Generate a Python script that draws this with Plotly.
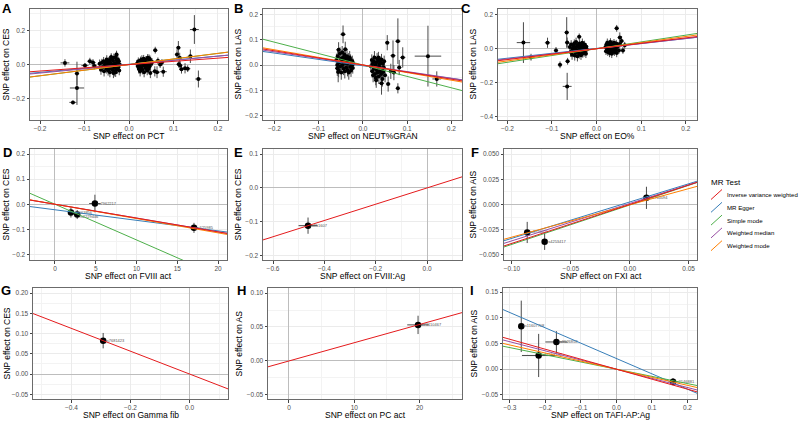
import plotly.graph_objects as go

W, H = 800, 421

# ---------------- data ----------------
METHODS = ["Inverse variance weighted", "MR Egger", "Simple mode", "Weighted median", "Weighted mode"]
COLORS = ["#E41A1C", "#377EB8", "#4DAF4A", "#984EA3", "#FF7F00"]
DRAW_ORDER = [1, 2, 3, 4, 0]

LETTERS = ["A", "B", "C", "D", "E", "F", "G", "H", "I"]
X_TITLES = ["SNP effect on PCT", "SNP effect on NEUT%GRAN", "SNP effect on EO%",
            "SNP effect on FVIII act", "SNP effect on FVIII:Ag", "SNP effect on FXI act",
            "SNP effect on Gamma fib", "SNP effect on PC act", "SNP effect on TAFI-AP:Ag"]
Y_TITLES = ["SNP effect on CES", "SNP effect on LAS", "SNP effect on LAS",
            "SNP effect on CES", "SNP effect on CES", "SNP effect on AIS",
            "SNP effect on CES", "SNP effect on AS", "SNP effect on AIS"]

# SNP tuples: (beta_exposure, beta_outcome, se_exposure, se_outcome)
A_snps = [
    (-0.144, 0.010, 0.010, 0.022), (-0.117, -0.053, 0.005, 0.070), (-0.117, -0.138, 0.016, 0.100),
    (-0.126, -0.223, 0.008, 0.010), (-0.099, -0.006, 0.008, 0.015), (-0.088, 0.020, 0.006, 0.020),
    (-0.081, 0.012, 0.006, 0.020), (-0.078, -0.008, 0.006, 0.020),
    (0.147, 0.207, 0.010, 0.085), (0.156, -0.085, 0.007, 0.050), (0.059, 0.085, 0.005, 0.020),
    (0.111, 0.099, 0.005, 0.040), (0.108, 0.060, 0.005, 0.030), (0.114, 0.040, 0.005, 0.030),
    (0.138, 0.049, 0.006, 0.040), (0.126, -0.022, 0.008, 0.030), (0.118, -0.028, 0.005, 0.025),
    (0.132, -0.024, 0.006, 0.020), (0.077, -0.042, 0.008, 0.030), (0.058, -0.040, 0.006, 0.030),
    (0.063, -0.045, 0.006, 0.035), (0.065, 0.022, 0.005, 0.020), (0.070, 0.000, 0.005, 0.020),
    (0.074, 0.012, 0.005, 0.020), (0.112, 0.002, 0.005, 0.020), (0.115, -0.005, 0.005, 0.025),
    (-0.066, 0.005, 0.004, 0.025), (-0.063, -0.030, 0.004, 0.030), (-0.061, 0.012, 0.004, 0.022),
    (-0.059, -0.015, 0.004, 0.028), (-0.057, 0.020, 0.004, 0.025), (-0.056, -0.040, 0.004, 0.030),
    (-0.054, 0.000, 0.004, 0.020), (-0.053, 0.015, 0.004, 0.025), (-0.051, -0.025, 0.004, 0.028),
    (-0.050, 0.030, 0.004, 0.025), (-0.049, -0.010, 0.004, 0.020), (-0.048, 0.005, 0.004, 0.022),
    (-0.047, -0.035, 0.004, 0.030), (-0.046, 0.018, 0.004, 0.025), (-0.045, -0.005, 0.004, 0.020),
    (-0.044, 0.025, 0.004, 0.025), (-0.043, -0.045, 0.004, 0.030), (-0.042, 0.010, 0.004, 0.022),
    (-0.041, -0.020, 0.004, 0.025), (-0.040, 0.035, 0.004, 0.025), (-0.039, -0.008, 0.004, 0.020),
    (-0.038, 0.000, 0.004, 0.022), (-0.037, -0.030, 0.004, 0.028), (-0.036, 0.022, 0.004, 0.022),
    (-0.035, -0.012, 0.004, 0.025), (-0.034, 0.040, 0.004, 0.025), (-0.033, -0.040, 0.004, 0.030),
    (-0.032, 0.008, 0.004, 0.020), (-0.031, -0.018, 0.004, 0.025), (-0.030, 0.045, 0.004, 0.025),
    (-0.029, -0.005, 0.004, 0.020), (-0.028, 0.060, 0.004, 0.022), (-0.027, -0.028, 0.004, 0.028),
    (-0.026, 0.012, 0.004, 0.022), (-0.025, 0.030, 0.004, 0.025), (-0.024, -0.015, 0.004, 0.025),
    (-0.023, 0.020, 0.004, 0.022), (-0.022, -0.035, 0.004, 0.028), (-0.021, 0.000, 0.004, 0.020),
    (-0.035, -0.050, 0.004, 0.030), (-0.040, 0.045, 0.004, 0.022), (-0.045, -0.022, 0.004, 0.025),
    (-0.050, 0.012, 0.004, 0.022), (-0.030, -0.045, 0.004, 0.028), (-0.028, 0.025, 0.004, 0.022),
    (0.018, 0.005, 0.004, 0.022), (0.020, -0.010, 0.004, 0.025), (0.021, 0.020, 0.004, 0.022),
    (0.022, -0.025, 0.004, 0.028), (0.023, 0.012, 0.004, 0.020), (0.024, 0.000, 0.004, 0.022),
    (0.025, -0.040, 0.004, 0.030), (0.026, 0.025, 0.004, 0.022), (0.027, -0.015, 0.004, 0.025),
    (0.028, 0.008, 0.004, 0.020), (0.029, 0.030, 0.004, 0.025), (0.030, -0.030, 0.004, 0.028),
    (0.031, 0.015, 0.004, 0.022), (0.032, -0.005, 0.004, 0.020), (0.033, 0.035, 0.004, 0.022),
    (0.034, -0.045, 0.004, 0.030), (0.035, 0.002, 0.004, 0.020), (0.036, 0.018, 0.004, 0.022),
    (0.037, -0.020, 0.004, 0.025), (0.038, 0.028, 0.004, 0.022), (0.039, -0.008, 0.004, 0.020),
    (0.040, 0.010, 0.004, 0.022), (0.041, -0.035, 0.004, 0.028), (0.042, 0.040, 0.004, 0.022),
    (0.043, 0.000, 0.004, 0.020), (0.044, -0.025, 0.004, 0.025), (0.045, 0.020, 0.004, 0.022),
    (0.046, -0.012, 0.004, 0.025), (0.047, 0.032, 0.004, 0.022), (0.048, -0.050, 0.004, 0.030),
    (0.050, 0.005, 0.004, 0.020), (0.052, 0.015, 0.004, 0.022), (0.025, -0.030, 0.004, 0.025),
    (0.035, 0.022, 0.004, 0.022), (0.045, 0.038, 0.004, 0.022),
]
A_slope = [0.19, 0.24, 0.33, 0.25, 0.33]
A_icept = [0.0, 0.002, 0.0, 0.0, 0.0]

B_snps = [
    (-0.045, 0.121, 0.006, 0.035), (-0.055, 0.060, 0.006, 0.030), (-0.040, 0.062, 0.006, 0.030),
    (-0.058, -0.013, 0.005, 0.030), (-0.056, -0.028, 0.005, 0.040),
    (0.055, 0.088, 0.005, 0.030), (0.079, 0.094, 0.006, 0.090), (0.068, 0.037, 0.006, 0.060),
    (0.090, 0.030, 0.006, 0.040), (0.082, -0.010, 0.005, 0.030), (0.079, -0.092, 0.005, 0.020),
    (0.057, -0.075, 0.005, 0.030), (0.042, -0.072, 0.006, 0.045), (0.147, 0.035, 0.030, 0.120),
    (0.167, -0.055, 0.010, 0.030), (0.070, -0.030, 0.005, 0.030), (0.063, -0.025, 0.006, 0.030),
    (-0.060, 0.020, 0.004, 0.025), (-0.058, 0.000, 0.004, 0.022), (-0.057, 0.035, 0.004, 0.025),
    (-0.055, -0.020, 0.004, 0.028), (-0.054, 0.010, 0.004, 0.022), (-0.052, 0.045, 0.004, 0.025),
    (-0.051, -0.005, 0.004, 0.020), (-0.050, 0.025, 0.004, 0.025), (-0.049, -0.030, 0.004, 0.028),
    (-0.048, 0.015, 0.004, 0.022), (-0.047, 0.050, 0.004, 0.025), (-0.046, 0.000, 0.004, 0.020),
    (-0.045, 0.030, 0.004, 0.025), (-0.044, -0.015, 0.004, 0.025), (-0.043, 0.020, 0.004, 0.022),
    (-0.042, 0.040, 0.004, 0.025), (-0.041, -0.025, 0.004, 0.028), (-0.040, 0.008, 0.004, 0.020),
    (-0.039, 0.028, 0.004, 0.022), (-0.038, -0.010, 0.004, 0.022), (-0.037, 0.018, 0.004, 0.022),
    (-0.036, 0.035, 0.004, 0.025), (-0.035, -0.020, 0.004, 0.025), (-0.034, 0.005, 0.004, 0.020),
    (-0.033, 0.025, 0.004, 0.022), (-0.032, -0.030, 0.004, 0.028), (-0.031, 0.012, 0.004, 0.022),
    (-0.030, 0.030, 0.004, 0.025), (-0.029, -0.008, 0.004, 0.020), (-0.028, 0.020, 0.004, 0.022),
    (-0.027, -0.022, 0.004, 0.025), (-0.026, 0.010, 0.004, 0.020), (-0.025, 0.000, 0.004, 0.020),
    (-0.024, 0.015, 0.004, 0.022), (-0.023, -0.012, 0.004, 0.022), (-0.022, 0.005, 0.004, 0.020),
    (0.018, -0.005, 0.004, 0.020), (0.020, 0.020, 0.004, 0.022), (0.021, -0.025, 0.004, 0.025),
    (0.022, 0.005, 0.004, 0.020), (0.023, -0.040, 0.004, 0.028), (0.024, 0.015, 0.004, 0.022),
    (0.025, -0.015, 0.004, 0.022), (0.026, 0.030, 0.004, 0.025), (0.027, -0.035, 0.004, 0.028),
    (0.028, 0.000, 0.004, 0.020), (0.029, -0.050, 0.004, 0.030), (0.030, 0.010, 0.004, 0.020),
    (0.031, -0.020, 0.004, 0.025), (0.032, 0.025, 0.004, 0.022), (0.033, -0.030, 0.004, 0.025),
    (0.034, -0.008, 0.004, 0.020), (0.035, 0.018, 0.004, 0.022), (0.036, -0.045, 0.004, 0.030),
    (0.037, 0.003, 0.004, 0.020), (0.038, -0.025, 0.004, 0.025), (0.039, 0.012, 0.004, 0.022),
    (0.040, -0.012, 0.004, 0.022), (0.041, -0.035, 0.004, 0.028), (0.042, 0.022, 0.004, 0.022),
    (0.043, -0.018, 0.004, 0.022), (0.044, -0.055, 0.004, 0.030), (0.045, 0.005, 0.004, 0.020),
    (0.046, -0.028, 0.004, 0.025), (0.047, -0.010, 0.004, 0.022), (0.048, 0.015, 0.004, 0.022),
    (0.050, -0.040, 0.004, 0.028), (0.030, -0.060, 0.004, 0.030), (0.035, 0.030, 0.004, 0.022),
]
B_slope = [-0.28, -0.25, -0.45, -0.26, -0.30]
B_icept = [0.0, -0.003, 0.0, 0.0, 0.0]

C_snps = [
    (-0.164, 0.036, 0.015, 0.120), (-0.147, -0.050, 0.008, 0.020), (-0.110, 0.035, 0.006, 0.030),
    (-0.091, -0.010, 0.005, 0.020), (-0.082, -0.095, 0.005, 0.020), (-0.067, 0.096, 0.005, 0.090),
    (-0.066, 0.036, 0.005, 0.030), (-0.065, -0.074, 0.005, 0.020), (-0.066, -0.222, 0.010, 0.080),
    (-0.039, 0.070, 0.005, 0.020), (0.045, 0.120, 0.005, 0.020), (0.052, 0.066, 0.005, 0.030),
    (0.059, -0.010, 0.005, 0.020), (0.056, 0.045, 0.005, 0.030), (0.063, 0.020, 0.004, 0.020),
    (-0.060, 0.010, 0.004, 0.025), (-0.058, -0.020, 0.004, 0.028), (-0.057, 0.025, 0.004, 0.025),
    (-0.055, -0.035, 0.004, 0.030), (-0.054, 0.000, 0.004, 0.022), (-0.052, 0.018, 0.004, 0.025),
    (-0.051, -0.012, 0.004, 0.022), (-0.050, 0.030, 0.004, 0.025), (-0.049, -0.040, 0.004, 0.030),
    (-0.048, 0.005, 0.004, 0.020), (-0.047, -0.025, 0.004, 0.025), (-0.046, 0.040, 0.004, 0.025),
    (-0.045, -0.008, 0.004, 0.022), (-0.044, 0.015, 0.004, 0.022), (-0.043, -0.045, 0.004, 0.030),
    (-0.042, 0.022, 0.004, 0.022), (-0.041, -0.018, 0.004, 0.025), (-0.040, 0.008, 0.004, 0.020),
    (-0.039, -0.030, 0.004, 0.028), (-0.038, 0.030, 0.004, 0.025), (-0.037, -0.005, 0.004, 0.020),
    (-0.036, 0.012, 0.004, 0.022), (-0.035, -0.038, 0.004, 0.028), (-0.034, 0.020, 0.004, 0.022),
    (-0.033, -0.015, 0.004, 0.022), (-0.032, 0.035, 0.004, 0.025), (-0.031, -0.028, 0.004, 0.025),
    (-0.030, 0.000, 0.004, 0.020), (-0.029, 0.015, 0.004, 0.022), (-0.028, -0.022, 0.004, 0.025),
    (-0.027, 0.025, 0.004, 0.022), (-0.026, -0.010, 0.004, 0.020), (-0.025, 0.005, 0.004, 0.020),
    (-0.024, -0.030, 0.004, 0.025), (-0.023, 0.012, 0.004, 0.020), (-0.022, -0.005, 0.004, 0.020),
    (0.020, 0.010, 0.004, 0.020), (0.021, -0.015, 0.004, 0.022), (0.022, 0.025, 0.004, 0.022),
    (0.023, 0.000, 0.004, 0.020), (0.024, 0.035, 0.004, 0.025), (0.025, -0.020, 0.004, 0.022),
    (0.026, 0.015, 0.004, 0.020), (0.027, -0.005, 0.004, 0.020), (0.028, 0.030, 0.004, 0.022),
    (0.029, -0.025, 0.004, 0.025), (0.030, 0.008, 0.004, 0.020), (0.031, 0.040, 0.004, 0.022),
    (0.032, -0.010, 0.004, 0.020), (0.033, 0.020, 0.004, 0.022), (0.034, -0.030, 0.004, 0.025),
    (0.035, 0.002, 0.004, 0.020), (0.036, 0.028, 0.004, 0.022), (0.037, -0.015, 0.004, 0.022),
    (0.038, 0.012, 0.004, 0.020), (0.039, 0.035, 0.004, 0.022), (0.040, -0.020, 0.004, 0.022),
    (0.041, 0.005, 0.004, 0.020), (0.042, 0.022, 0.004, 0.022), (0.043, -0.008, 0.004, 0.020),
    (0.044, 0.030, 0.004, 0.022), (0.045, -0.025, 0.004, 0.025), (0.046, 0.010, 0.004, 0.020),
    (0.048, 0.018, 0.004, 0.022), (0.050, -0.010, 0.004, 0.020), (0.052, 0.028, 0.004, 0.022),
]
C_slope = [0.32, 0.29, 0.40, 0.30, 0.36]
C_icept = [0.0, 0.002, 0.0, 0.0, 0.0]

D_snps = [(1.96, -0.033, 0.25, 0.020), (2.73, -0.041, 0.25, 0.018),
          (4.90, 0.003, 0.70, 0.035), (17.05, -0.094, 0.50, 0.020)]
D_ids = ["rs1063856", "rs2229446", "rs7962217", "rs625985"]
D_slope = [-0.0055, -0.0042, -0.0142, -0.0055, -0.0057]
D_icept = [0.0, -0.022, 0.0, 0.0, 0.0]

E_snps = [(-0.4636, -0.1115, 0.037, 0.024)]
E_ids = ["rs851607"]
E_slope = [0.2405]
E_icept = [0.0]

F_snps = [(-0.087, -0.0277, 0.002, 0.0105), (-0.0722, -0.037, 0.002, 0.008), (0.0142, 0.0066, 0.002, 0.011)]
F_ids = ["rs3756011", "rs4253417", "rs1760094"]
F_slope = [0.385, 0.36, 0.39, 0.37, 0.32]
F_icept = [0.0, 0.0025, -0.0005, 0.001, -0.0003]

G_snps = [(-0.2925, 0.0824, 0.008, 0.019)]
G_ids = ["rs7681423"]
G_slope = [-0.2817]
G_icept = [0.0]

H_snps = [(19.77, 0.0531, 1.66, 0.0135)]
H_ids = ["rs73110467"]
H_slope = [0.002686]
H_icept = [0.0]

I_snps = [(-0.268, 0.0834, 0.004, 0.050), (-0.169, 0.053, 0.031, 0.021),
          (-0.219, 0.0267, 0.047, 0.042), (0.1595, -0.0243, 0.010, 0.007)]
I_ids = ["rs11607708", "rs9526858", "rs17513332", "rs2146881"]
I_slope = [-0.194, -0.298, -0.14, -0.178, -0.157]
I_icept = [0.0, 0.0208, 0.0, 0.0, 0.0]

SNPS = [A_snps, B_snps, C_snps, D_snps, E_snps, F_snps, G_snps, H_snps, I_snps]
IDS = [None, None, None, D_ids, E_ids, F_ids, G_ids, H_ids, I_ids]
SLOPES = [A_slope, B_slope, C_slope, D_slope, E_slope, F_slope, G_slope, H_slope, I_slope]
ICEPTS = [A_icept, B_icept, C_icept, D_icept, E_icept, F_icept, G_icept, H_icept, I_icept]

# axis limits and ticks
X_RANGE = [[-0.2226, 0.2226], [-0.226, 0.224], [-0.221, 0.225],
           [-3.06, 21.1], [-0.639, 0.136], [-0.1067, 0.0571],
           [-0.53, 0.13], [-3.21, 26.5], [-0.3194, 0.227]]
Y_RANGE = [[-0.327, 0.328], [-0.217, 0.221], [-0.42, 0.234],
           [-0.222, 0.22], [-0.213, 0.115], [-0.055, 0.055],
           [-0.0616, 0.2124], [-0.056, 0.1074], [-0.058, 0.158]]
X_DTICK = [0.1, 0.1, 0.1, 5, 0.2, 0.05, 0.2, 10, 0.1]
Y_DTICK = [0.2, 0.1, 0.2, 0.1, 0.1, 0.025, 0.05, 0.05, 0.05]
X_FMT = [".1f", ".1f", ".1f", "d", ".1f", ".2f", ".1f", "d", ".1f"]
Y_FMT = [".1f", ".1f", ".1f", ".1f", ".1f", ".3f", ".2f", ".2f", ".2f"]

# ---------------- layout geometry (pixels) ----------------
BOXES = [(30, 228, 9, 120), (263, 462, 9, 120), (498, 697, 9, 120),
         (30, 227, 149, 260), (263, 462, 149, 260), (504, 697, 149, 260),
         (33, 228, 288, 399), (268, 462, 288, 399), (503, 697, 288, 399)]
LETTER_POS = [(7, 9), (238, 9), (466, 9), (7, 152), (238, 152), (475, 152),
              (6, 290), (241, 290), (472, 290)]
YTITLE_X = [6, 238, 473, 6, 238, 473, 6, 238, 473]
LABEL_POS = {3: ["middle right", "bottom right", "middle right", "middle right"]}

FONT = "Liberation Sans, Arial, sans-serif"


def px(x):
    return x / W


def py(y):
    return 1 - y / H


fig = go.Figure()
annotations = []
shapes = []

for i in range(9):
    n = "" if i == 0 else str(i + 1)
    xa, ya = "x" + n, "y" + n
    snps = SNPS[i]
    bx = [s[0] for s in snps]
    by = [s[1] for s in snps]
    sx = [s[2] for s in snps]
    sy = [s[3] for s in snps]
    big = IDS[i] is not None
    fig.add_trace(go.Scatter(
        x=bx, y=by, mode="markers", xaxis=xa, yaxis=ya, showlegend=False,
        marker=dict(color="black", size=6.5 if big else 4),
        error_x=dict(type="data", array=sx, color="#4a4a4a", thickness=1, width=0),
        error_y=dict(type="data", array=sy, color="#4a4a4a", thickness=1, width=0),
        hoverinfo="skip"))
    if big:
        fig.add_trace(go.Scatter(
            x=bx, y=by, mode="text", text=["  " + t for t in IDS[i]],
            textposition=LABEL_POS.get(i, "middle right"),
            textfont=dict(size=4, color="#555555", family=FONT),
            xaxis=xa, yaxis=ya, showlegend=False, hoverinfo="skip"))
    slopes, iceps = SLOPES[i], ICEPTS[i]
    order = DRAW_ORDER if len(slopes) > 1 else [0]
    for m in order:
        xr = X_RANGE[i]
        fig.add_trace(go.Scatter(
            x=xr, y=[slopes[m] * v + iceps[m] for v in xr], mode="lines",
            line=dict(color=COLORS[m], width=1), xaxis=xa, yaxis=ya,
            showlegend=False, hoverinfo="skip", cliponaxis=True))

    x0, x1, y0, y1 = BOXES[i]
    common = dict(showline=True, mirror=True, linecolor="#6b6b6b", linewidth=1,
                  showgrid=True, gridcolor="#EBEBEB", gridwidth=1,
                  zeroline=True, zerolinecolor="#BDBDBD", zerolinewidth=1.2,
                  ticks="outside", ticklen=2.5, tickwidth=1, tickcolor="#444444",
                  tickfont=dict(size=6.5, color="#4D4D4D", family=FONT),
                  tickmode="linear", tick0=0)
    fig.layout["xaxis" + n] = dict(
        common, domain=[px(x0), px(x1)], anchor=ya, range=X_RANGE[i],
        dtick=X_DTICK[i], tickformat=X_FMT[i],
        minor=dict(dtick=X_DTICK[i] / 2, showgrid=True, gridcolor="#F3F3F3", gridwidth=0.6, ticks=""))
    fig.layout["yaxis" + n] = dict(
        common, domain=[py(y1), py(y0)], anchor=xa, range=Y_RANGE[i],
        dtick=Y_DTICK[i], tickformat=Y_FMT[i],
        minor=dict(dtick=Y_DTICK[i] / 2, showgrid=True, gridcolor="#F3F3F3", gridwidth=0.6, ticks=""))

    # panel letter
    lx, ly = LETTER_POS[i]
    annotations.append(dict(text="<b>%s</b>" % LETTERS[i], x=px(lx), y=py(ly), xref="paper", yref="paper",
                            xanchor="center", yanchor="middle", showarrow=False,
                            font=dict(size=13, color="black", family=FONT)))
    # axis titles
    annotations.append(dict(text=X_TITLES[i], x=px((x0 + x1) / 2), y=py(y1 + 16), xref="paper", yref="paper",
                            xanchor="center", yanchor="middle", showarrow=False,
                            font=dict(size=8.5, color="black", family=FONT)))
    annotations.append(dict(text=Y_TITLES[i], x=px(YTITLE_X[i]), y=py((y0 + y1) / 2), xref="paper",
                            yref="paper", xanchor="center", yanchor="middle", showarrow=False,
                            textangle=-90, font=dict(size=8.5, color="black", family=FONT)))

# ---------------- legend (drawn manually, diagonal keys as in ggplot) ----------------
annotations.append(dict(text="MR Test", x=px(709), y=py(182), xref="paper", yref="paper",
                        xanchor="left", yanchor="middle", showarrow=False,
                        font=dict(size=8, color="black", family=FONT)))
for k, name in enumerate(METHODS):
    yc = 194.5 + k * 12.8
    shapes.append(dict(type="line", xref="paper", yref="paper",
                       x0=px(711), y0=py(yc + 5), x1=px(722), y1=py(yc - 5),
                       line=dict(color=COLORS[k], width=1)))
    annotations.append(dict(text=name, x=px(725), y=py(yc), xref="paper", yref="paper",
                            xanchor="left", yanchor="middle", showarrow=False,
                            font=dict(size=6.1, color="black", family=FONT)))

fig.update_layout(width=W, height=H, margin=dict(l=0, r=0, t=0, b=0),
                  paper_bgcolor="white", plot_bgcolor="white",
                  annotations=annotations, shapes=shapes, showlegend=False,
                  font=dict(family=FONT))

fig.write_html("out.html", config={"displayModeBar": False},
               post_script="document.body.style.margin='0px';document.body.style.padding='0px';")
